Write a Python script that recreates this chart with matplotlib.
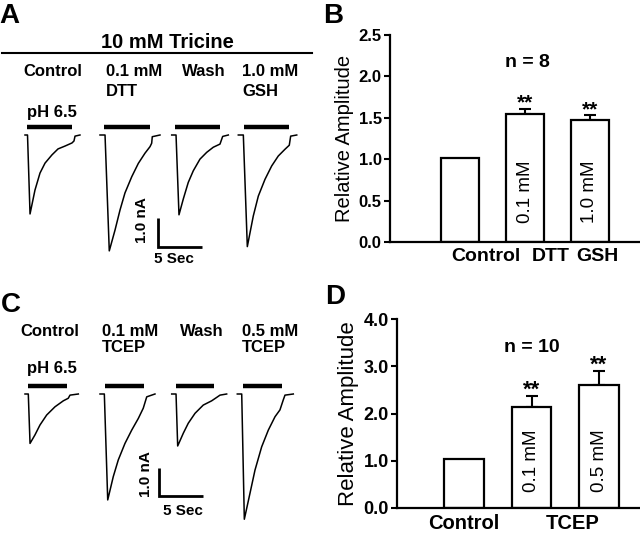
import matplotlib
matplotlib.use("Agg")
import matplotlib.pyplot as plt

plt.rcParams["font.family"] = ["Liberation Sans", "DejaVu Sans"]

# ---- data ----
# panel A traces (time in s from trace start, current in nA)
a_names = [["Control"], ["0.1 mM", "DTT"], ["Wash"], ["1.0 mM", "GSH"]]
a_t = [
    [0, 0.29, 0.58, 1.15, 1.73, 2.31, 3.11, 3.81, 4.61, 5.42, 5.65, 5.77, 6.34],
    [0, 0.58, 1.07, 1.73, 2.31, 2.88, 3.66, 4.42, 5.19, 5.77, 5.96, 6.03, 6.92],
    [0, 0.50, 0.84, 1.34, 1.91, 2.49, 3.26, 4.04, 4.80, 5.57, 5.88, 6.53],
    [0, 0.58, 1.04, 1.73, 2.31, 3.08, 3.85, 4.61, 5.39, 5.88, 6.04, 6.74],
]
a_i = [
    [0, 0, -2.78, -1.94, -1.34, -0.99, -0.70, -0.49, -0.39, -0.28, -0.21, -0.04, 0],
    [0, 0, -4.08, -3.35, -2.64, -2.04, -1.47, -1.00, -0.64, -0.41, -0.29, -0.06, 0],
    [0, 0, -2.81, -2.25, -1.67, -1.26, -0.85, -0.61, -0.43, -0.32, -0.05, 0],
    [0, 0, -3.93, -2.85, -2.15, -1.56, -1.09, -0.74, -0.50, -0.36, -0.04, 0],
]
a_ph = [(0.23, 5.42), (0.50, 5.77), (0.38, 5.57), (0.66, 5.88)]

# panel C traces
c_names = [["Control"], ["0.1 mM", "TCEP"], ["Wash"], ["0.5 mM", "TCEP"]]
c_t = [
    [0, 0.38, 0.58, 1.15, 1.73, 2.50, 3.46, 4.42, 4.99, 5.19, 6.15],
    [0, 0.50, 0.89, 1.53, 2.11, 2.88, 3.66, 4.42, 4.99, 5.39, 6.34],
    [0, 0.50, 0.69, 1.34, 1.91, 2.69, 3.64, 4.61, 5.19, 5.57, 6.34],
    [0, 0.51, 0.81, 1.46, 2.04, 2.81, 3.58, 4.35, 4.92, 5.30, 5.50, 6.46],
]
c_i = [
    [0, 0, -1.74, -1.44, -1.09, -0.74, -0.45, -0.24, -0.15, -0.04, 0],
    [0, 0, -3.73, -2.91, -2.32, -1.74, -1.27, -0.86, -0.50, -0.10, 0],
    [0, 0, -1.83, -1.38, -1.03, -0.68, -0.39, -0.24, -0.12, -0.04, 0],
    [0, 0, -4.41, -3.50, -2.68, -1.86, -1.27, -0.80, -0.56, -0.21, -0.04, 0],
]
c_ph = [(0.38, 4.88), (0.58, 5.11), (0.50, 4.92), (0.62, 5.12)]

# panel B bars
b_vals = [1.02, 1.55, 1.47]
b_err = [0.0, 0.06, 0.06]
b_inner = ["", "0.1 mM", "1.0 mM"]
b_xlabels = ["Control", "DTT", "GSH"]

# panel D bars
d_vals = [1.04, 2.13, 2.60]
d_err = [0.0, 0.24, 0.30]
d_inner = ["", "0.1 mM", "0.5 mM"]
d_xlabels = ["Control", "TCEP"]

W, H = 640, 535
PX_S = 8.67    # pixels per second
PX_NA = 28.4   # pixels per nA

fig = plt.figure(figsize=(W / 100, H / 100), dpi=100)


def fx(px):
    return px / W


def fy(py):
    return 1 - py / H


def trace_panel(top, bottom, base_y, starts, ts, cur, ph, bar_corner):
    ax = fig.add_axes([0, fy(bottom), 0.5, (bottom - top) / H])
    ax.set_xlim(0, 320 / PX_S)
    ax.set_ylim(-(bottom - base_y) / PX_NA, (base_y - top) / PX_NA)
    ax.axis("off")
    for x0, t, i, (p0, p1) in zip(starts, ts, cur, ph):
        ax.plot([x0 + v for v in t], i, color="black", lw=1.1)
        ax.plot([x0 + p0, x0 + p1], [0.29, 0.29], color="black", lw=3.2,
                solid_capstyle="butt")
    sx, sy = bar_corner
    ax.plot([sx, sx, sx + 5], [sy + 1.0, sy, sy], color="black", lw=2,
            solid_capstyle="butt", solid_joinstyle="miter")
    return ax


starts = [25 / PX_S, 100 / PX_S, 171.7 / PX_S, 238.3 / PX_S]
trace_panel(118, 270, 135, starts, a_t, a_i, a_ph, (158.3 / PX_S, -3.93))
starts_c = [25 / PX_S, 100 / PX_S, 171.7 / PX_S, 237.3 / PX_S]
trace_panel(378, 535, 394, starts_c, c_t, c_i, c_ph, (159.3 / PX_S, -3.59))

# ---- panel A / C text ----
bold = dict(fontweight="bold", color="black")
fig.text(fx(-1), fy(23), "A", fontsize=20, va="baseline", ha="left", **bold)
fig.text(fx(1), fy(312), "C", fontsize=20, va="baseline", ha="left", **bold)
fig.text(fx(323), fy(23), "B", fontsize=20, va="baseline", ha="left", **bold)
fig.text(fx(325), fy(304), "D", fontsize=20, va="baseline", ha="left", **bold)

fig.text(fx(167), fy(42), "10 mM Tricine", fontsize=14.5, ha="center", va="center", **bold)
fig.add_artist(plt.Line2D([fx(2), fx(312)], [fy(53), fy(53)], color="black", lw=1.5))

lab_x = [23, 106, 182, 242]
for x, lines in zip(lab_x, a_names):
    for k, s in enumerate(lines):
        fig.text(fx(x), fy(71 + 20 * k), s, fontsize=12, ha="left", va="center", **bold)
fig.text(fx(27), fy(112), "pH 6.5", fontsize=12, ha="left", va="center", **bold)
fig.text(fx(142), fy(220), "1.0 nA", fontsize=11, rotation=90, ha="center", va="center", **bold)
fig.text(fx(174), fy(259), "5 Sec", fontsize=11, ha="center", va="center", **bold)

lab_xc = [20, 102, 180, 242]
for x, lines in zip(lab_xc, c_names):
    for k, s in enumerate(lines):
        fig.text(fx(x), fy(332 + 16 * k), s, fontsize=12, ha="left", va="center", **bold)
fig.text(fx(27), fy(369), "pH 6.5", fontsize=12, ha="left", va="center", **bold)
fig.text(fx(146), fy(474), "1.0 nA", fontsize=11, rotation=90, ha="center", va="center", **bold)
fig.text(fx(183), fy(511), "5 Sec", fontsize=11, ha="center", va="center", **bold)


# ---- bar panels ----
def bar_panel(rect, vals, err, inner, ylim, yticks, ylabels, width, inner_y,
              xlab_pos, xlabels, n_text, n_xy, fs_tick, fs_ylab, fs_xlab, fs_star):
    ax = fig.add_axes(rect)
    pos = list(range(len(vals)))
    ax.bar(pos, vals, width=width, color="white", edgecolor="black", lw=1.6, zorder=2)
    for p, v, e in zip(pos, vals, err):
        if e > 0:
            ax.errorbar(p, v, yerr=[[0], [e]], color="black", lw=1.5, capsize=4,
                        capthick=1.5, zorder=1)
            ax.annotate("**", (p, v + e), xytext=(0, 0), textcoords="offset points",
                        ha="center", va="baseline", fontsize=fs_star, **bold)
    for p, s in zip(pos, inner):
        if s:
            ax.text(p, inner_y, s, rotation=90, ha="center", va="bottom", fontsize=13.5)
    ax.set_ylim(*ylim)
    ax.set_yticks(yticks)
    ax.set_yticklabels(ylabels, fontsize=fs_tick, fontweight="bold")
    ax.set_xticks(xlab_pos)
    ax.set_xticklabels(xlabels, fontsize=fs_xlab, fontweight="bold")
    ax.tick_params(axis="x", length=0, pad=4)
    ax.tick_params(axis="y", direction="out", length=4, width=1.5, pad=2)
    for s in ("top", "right"):
        ax.spines[s].set_visible(False)
    for s in ("left", "bottom"):
        ax.spines[s].set_linewidth(1.6)
    ax.set_ylabel("Relative Amplitude", fontsize=fs_ylab, labelpad=3)
    ax.text(n_xy[0], n_xy[1], n_text, transform=ax.transData, ha="center",
            va="center", fontsize=14, **bold)
    return ax


axB = bar_panel([fx(390), fy(242), 250 / W, 207 / H], b_vals, b_err, b_inner,
                (0, 2.5), [0, 0.5, 1.0, 1.5, 2.0, 2.5],
                ["0.0", "0.5", "1.0", "1.5", "2.0", "2.5"], 0.585, 0.23,
                [0.4, 1.4, 2.12], b_xlabels, "n = 8", (1.03, 2.17),
                12, 14.5, 14, 15)
axB.set_xlim(-70 / 65, 180 / 65)

axD = bar_panel([fx(397), fy(508), 243 / W, 189 / H], d_vals, d_err, d_inner,
                (0, 4.0), [0, 1, 2, 3, 4],
                ["0.0", "1.0", "2.0", "3.0", "4.0"], 0.59, 0.34,
                [0.0, 1.61], d_xlabels, "n = 10", (1.0, 3.4),
                13, 16, 14.5, 16)
axD.set_xlim(-67 / 67.5, 176 / 67.5)

fig.savefig("out.png", dpi=100)
